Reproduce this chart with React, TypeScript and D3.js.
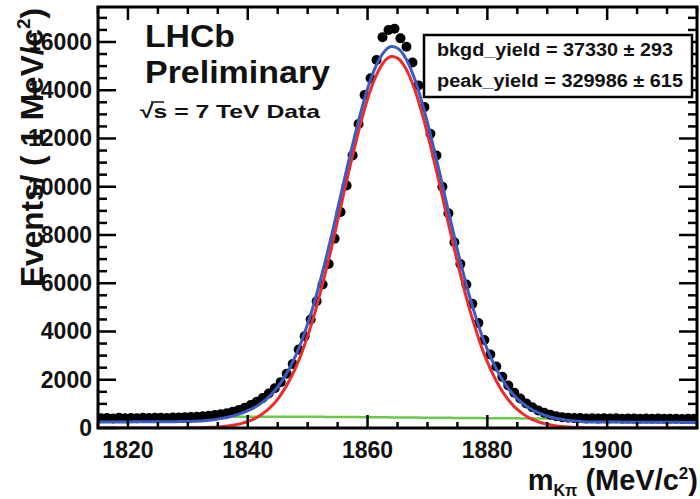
import React from "react";
import * as d3 from "d3";

// ---- data ----
const BIN_LOW = 1815;
const BIN_HIGH = 1915;
const dataCounts = [
  400, 415, 395, 420, 405, 415, 400, 425, 410, 420, 430, 415, 435, 440, 450, 460, 470, 485, 510, 540,
  575, 615, 675, 745, 835, 955, 1085, 1240, 1430, 1650,
  1900, 2250, 2650, 3250, 3800, 4500, 5250, 5950, 6800, 7850,
  8950, 10050, 11300, 12600, 13800, 14500, 15250, 16200, 16500, 16550,
  16150, 15800, 15150, 14200, 13300, 12200, 11300, 10000, 8900, 7700,
  6800, 5950, 5150, 4350, 3650, 3050, 2550, 2120, 1760, 1460,
  1220, 1020, 860, 730, 630, 550, 490, 450, 425, 410,
  410, 395, 405, 390, 400, 395, 400, 385, 395, 390, 385, 395, 385, 390, 380, 385, 380, 375, 385, 380,
];

// fit curves sampled every 1 MeV from 1815 to 1915
const totalFit = [
  250, 250, 250, 251, 252, 253, 254, 255, 256, 257, 258, 259, 260,
  263, 267, 272, 278, 292, 309, 334, 368, 413, 467,
  533, 615, 720, 835, 990, 1180, 1405, 1700, 2060, 2490,
  3000, 3610, 4320, 5110, 6000, 6965, 7980, 9070, 10160, 11230,
  12245, 13205, 14060, 14770, 15305, 15660, 15810, 15742, 15478, 15014,
  14370, 13570, 12655, 11650, 10615, 9520, 8450, 7385, 6400, 5470,
  4660, 3900, 3255, 2695, 2215, 1810, 1485, 1220, 1005, 830,
  695, 585, 494, 427, 373, 335, 303, 282, 264, 253,
  250, 248, 246, 245, 244, 243, 242, 241, 240, 239,
  238, 237, 236, 235, 234, 233, 232, 231,
];
const signalFit = [
  0, 0, 0, 0, 0, 0, 0, 0, 0, 0, 0, 0, 0,
  1, 3, 5, 8, 12, 19, 29, 43, 63, 92,
  133, 190, 270, 370, 510, 690, 910, 1200, 1560, 1990,
  2500, 3110, 3820, 4610, 5500, 6470, 7490, 8590, 9690, 10770,
  11800, 12770, 13630, 14350, 14890, 15250, 15400, 15330, 15060, 14590,
  13940, 13130, 12200, 11180, 10130, 9020, 7940, 6870, 5880, 4950,
  4140, 3380, 2740, 2190, 1720, 1330, 1020, 770, 575, 420,
  305, 220, 154, 107, 73, 50, 33, 22, 14, 9,
  6, 4, 2, 1, 0, 0, 0, 0, 0, 0,
  0, 0, 0, 0, 0, 0, 0, 0,
];
const bkgdFit = [
  440, 441, 442, 443, 444, 445, 446, 447, 448, 449,
  450, 451, 452, 453, 454, 455, 456, 457, 458, 459,
  460, 461, 462, 463, 464, 465, 466, 466, 467, 467,
  468, 468, 468, 467, 466, 465, 464, 463, 461, 460,
  458, 456, 454, 452, 450, 448, 446, 444, 442, 440,
  438, 436, 434, 432, 430, 428, 426, 424, 422, 420,
  418, 416, 414, 412, 410, 408, 406, 404, 402, 400,
  399, 398, 397, 396, 395, 394, 393, 392, 391, 390,
  389, 388, 387, 386, 385, 384, 383, 382, 381, 380,
  379, 378, 377, 376, 375, 374, 373, 372, 371, 370, 369,
];

const xTickLabels = [1820, 1840, 1860, 1880, 1900];
const yTickLabels = [0, 2000, 4000, 6000, 8000, 10000, 12000, 14000, 16000];
const Y_MAX = 17450;

const FONT = "'Liberation Sans', Arial, Helvetica, sans-serif";

export default function App() {
  const L = 98, R = 697, T = 7, B = 428;
  const x = d3.scaleLinear().domain([BIN_LOW, BIN_HIGH]).range([L, R]);
  const y = d3.scaleLinear().domain([0, Y_MAX]).range([B, T]);

  const binCentres = dataCounts.map((_, i) => BIN_LOW + 0.5 + i);
  const curveMass = d3.range(BIN_LOW, BIN_HIGH + 1);

  const line = d3
    .line<number>()
    .x((_, i) => x(curveMass[i]))
    .y((v) => y(v))
    .curve(d3.curveMonotoneX);

  const xMinor = d3.range(BIN_LOW, BIN_HIGH + 0.01, 5);
  const yMinor = d3.range(0, Y_MAX, 500);

  return (
    <svg
      width={700}
      height={499}
      style={{ position: "absolute", left: 0, top: 0, background: "#fff" }}
      fontFamily={FONT}
      fontWeight="bold"
    >
      <defs>
        <clipPath id="plotArea">
          <rect x={L} y={T} width={R - L} height={B - T} />
        </clipPath>
      </defs>

      <g clipPath="url(#plotArea)">
        <path d={line(bkgdFit) || ""} fill="none" stroke="#6cc84a" strokeWidth={2.5} />
        {dataCounts.map((v, i) => (
          <g key={i}>
            <line
              x1={x(binCentres[i])}
              x2={x(binCentres[i])}
              y1={y(v + Math.sqrt(v))}
              y2={y(v - Math.sqrt(v))}
              stroke="#000"
              strokeWidth={1.5}
            />
            <circle cx={x(binCentres[i])} cy={y(v)} r={5} fill="#000" />
          </g>
        ))}
        <path d={line(signalFit) || ""} fill="none" stroke="#ee2a2a" strokeWidth={3} />
        <path d={line(totalFit) || ""} fill="none" stroke="#3a5cc4" strokeWidth={3} />
      </g>

      {/* frame */}
      <rect x={L} y={T} width={R - L} height={B - T} fill="none" stroke="#000" strokeWidth={3} />

      {/* x ticks bottom & top */}
      {xMinor.map((v) => {
        const major = xTickLabels.includes(v);
        return (
          <g key={"xt" + v}>
            <line x1={x(v)} x2={x(v)} y1={B} y2={B - (major ? 13 : 6)} stroke="#000" strokeWidth={2.5} />
            <line x1={x(v)} x2={x(v)} y1={T} y2={T + (major ? 13 : 7)} stroke="#000" strokeWidth={2.5} />
          </g>
        );
      })}
      {/* y ticks left & right */}
      {yMinor.map((v) => {
        const major = v % 2000 === 0;
        return (
          <g key={"yt" + v}>
            <line x1={L} x2={L + (major ? 18 : 9)} y1={y(v)} y2={y(v)} stroke="#000" strokeWidth={2.5} />
            <line x1={R} x2={R - (major ? 18 : 9)} y1={y(v)} y2={y(v)} stroke="#000" strokeWidth={2.5} />
          </g>
        );
      })}

      {/* tick labels */}
      {xTickLabels.map((v) => (
        <text key={"xl" + v} x={x(v)} y={458} fontSize={23} textAnchor="middle" fill="#111">
          {v}
        </text>
      ))}
      {yTickLabels.map((v) => (
        <text key={"yl" + v} x={92} y={y(v) + 8} fontSize={23} textAnchor="end" fill="#111">
          {v}
        </text>
      ))}

      {/* axis titles */}
      <text x={698} y={490} fontSize={29} textAnchor="end" fill="#111">
        m
        <tspan fontSize={16} dy={6}>Kπ</tspan>
        <tspan dy={-6}> (MeV/c</tspan>
        <tspan fontSize={17} dy={-11}>2</tspan>
        <tspan dy={11}>)</tspan>
      </text>
      <text
        transform="translate(43,287) rotate(-90)"
        fontSize={32}
        textLength={279}
        lengthAdjust="spacingAndGlyphs"
        fill="#111"
      >
        Events/ ( 1 MeV/c
        <tspan fontSize={19} dy={-13}>2</tspan>
        <tspan dy={13}>)</tspan>
      </text>

      {/* labels */}
      <text x={145} y={47} fontSize={31} textLength={90} lengthAdjust="spacingAndGlyphs" fill="#111">
        LHCb
      </text>
      <text x={145} y={83} fontSize={31} textLength={185} lengthAdjust="spacingAndGlyphs" fill="#111">
        Preliminary
      </text>
      <text x={140} y={118} fontSize={19} textLength={180} lengthAdjust="spacingAndGlyphs" fill="#111">
        √s = 7 TeV Data
      </text>
      <line x1={151} x2={164} y1={102} y2={102} stroke="#111" strokeWidth={1.5} />

      {/* yield box */}
      <rect x={424} y={35} width={268} height={62} fill="#fff" stroke="#000" strokeWidth={2.5} />
      <text x={437} y={56} fontSize={18} textLength={236} lengthAdjust="spacingAndGlyphs" fill="#111">
        bkgd_yield =  37330 ± 293
      </text>
      <text x={437} y={87} fontSize={18} textLength={246} lengthAdjust="spacingAndGlyphs" fill="#111">
        peak_yield =  329986 ± 615
      </text>
    </svg>
  );
}
